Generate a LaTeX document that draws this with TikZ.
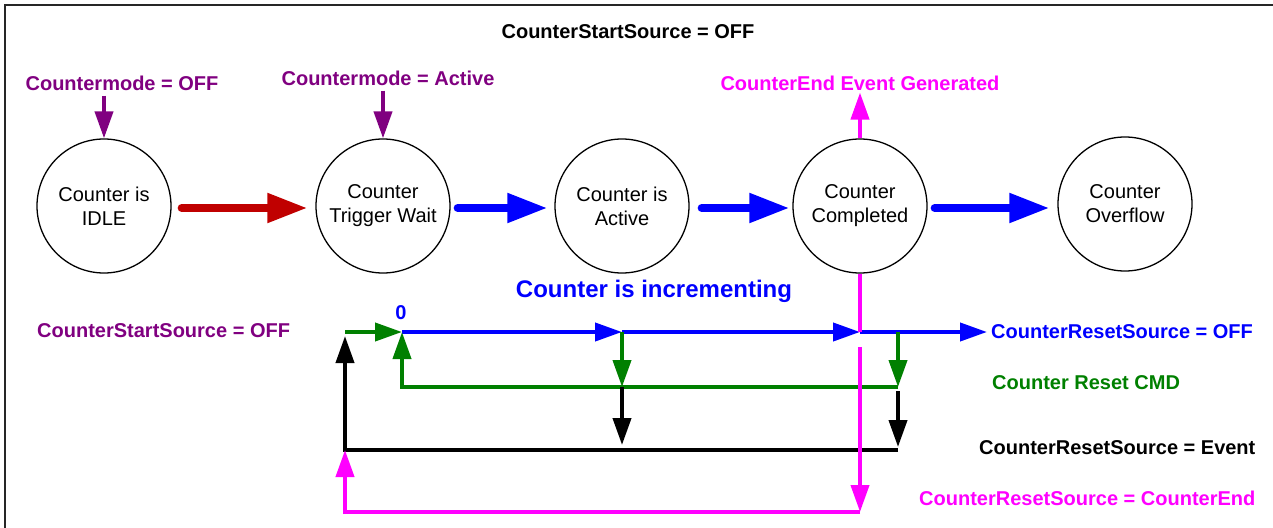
\documentclass[tikz,border=0pt]{standalone}
\usepackage{fontspec}
\setmainfont{Liberation Sans}
\usetikzlibrary{arrows.meta,positioning,calc}
\definecolor{redx}{HTML}{C00000}
\definecolor{purp}{HTML}{800080}
\definecolor{magx}{HTML}{FF00FF}
\definecolor{bluex}{HTML}{0000FF}
\definecolor{greenx}{HTML}{008000}
\tikzset{
  state/.style={circle,draw,line width=1.3pt,minimum size=134pt,inner sep=0pt,align=center,font=\fontsize{20}{24}\selectfont},
  big/.style={line width=8pt,line cap=round,-{Triangle[length=40pt,width=28pt]}},
  ar/.style={line width=4pt,-{Triangle[length=27pt,width=18pt]}},
  ln/.style={line width=4pt},
  lbl/.style={font=\fontsize{20}{24}\selectfont\bfseries,inner sep=2pt}
}

\begin{document}
\begin{tikzpicture}[x=1pt,y=-1pt]
\useasboundingbox (0,0) rectangle (1273,527);
\draw[line width=2pt,black!85] (1300,5) -- (5,5) -- (5,560);
% states
\node[state] (idle) at (104,206) {Counter is\\IDLE};
\node[state] (wait) at (383,206) {Counter\\Trigger Wait};
\node[state] (active) at (622,206) {Counter is\\Active};
\node[state] (done) at (860,206) {Counter\\Completed};
\node[state] (over) at (1125,204) {Counter\\Overflow};
% labels
\node[lbl] (top) at (628,32) {CounterStartSource = OFF};
\node[lbl,purp] (modeoff) at (122,83) {Countermode = OFF};
\node[lbl,purp] (modeact) at (388,78) {Countermode = Active};
\node[lbl,magx] (endev) at (860,83) {CounterEnd Event Generated};
\node[lbl,purp,anchor=west] (ssoff) at (35,331) {CounterStartSource = OFF};
\node[lbl,bluex,font=\fontsize{24}{28}\selectfont\bfseries] (incr) at (654,291) {Counter is incrementing};
\node[lbl,bluex] (zero) at (401,313) {0};
\node[lbl,bluex,anchor=west] (rsoff) at (989,332) {CounterResetSource = OFF};
\node[lbl,greenx,anchor=west] (rcmd) at (990,383) {Counter Reset CMD};
\node[lbl,anchor=west] (rsev) at (977,448) {CounterResetSource = Event};
\node[lbl,magx,anchor=west] (rsend) at (917,498) {CounterResetSource = CounterEnd};
% state transitions
\draw[big,redx,shorten <=10pt,shorten >=8pt] ([yshift=-2pt]idle.east) -- ([yshift=-2pt]wait.west);
\draw[big,bluex,shorten <=7pt,shorten >=7pt] ([yshift=-2pt]wait.east) -- ([yshift=-2pt]active.west);
\draw[big,bluex,shorten <=12pt,shorten >=3pt] ([yshift=-2pt]active.east) -- ([yshift=-2pt]done.west);
\draw[big,bluex,shorten <=7pt,shorten >=8pt] ([yshift=-2pt]done.east) -- ([yshift=-2pt]done.east -| over.west);
\draw[ar,purp,shorten <=3pt] (idle.north |- modeoff.south) -- (idle.north);
\draw[ar,purp,shorten <=3pt] (wait.north |- modeact.south) -- (wait.north);
\draw[ar,magx] (done.north) -- (done.north |- endev.south);
% counter time line
\coordinate (s0) at (345,332);
\coordinate (z) at (402,332);
\coordinate (b1) at (622,332);
\coordinate (b2) at (860,332);
\coordinate (b3) at (898,332);
\coordinate (g0) at (402,387);
\coordinate (g1) at (622,387);
\coordinate (g2) at (898,387);
\coordinate (k0) at (345,450);
\coordinate (k1) at (622,450);
\coordinate (k2) at (898,450);
\coordinate (m1) at (860,347);
\coordinate (m2) at (860,512);
\coordinate (m0) at (345,512);
\draw[ar,bluex] (z) -- (b1);
\draw[ar,bluex] (b1) -- (b2);
\draw[ar,bluex,shorten >=2pt] (b2) -- (rsoff.west);
\draw[ar,greenx] (s0) -- (z);
\draw[ar,greenx] (b1) -- (g1);
\draw[ar,greenx] (b3) -- (g2);
\draw[ar,greenx] (g2) -- (g0) -- (z);
\draw[ar,black,shorten >=5pt] (g1) -- (k1);
\draw[ar,black,shorten <=4pt,shorten >=3pt] (g2) -- (k2);
\draw[ar,black,shorten >=4pt] (k2) -- (k0) -- (s0);
\draw[ln,magx] (done.south) -- (b2);
\draw[ar,magx] (m1) -- (m2);
\draw[ar,magx] (m2) -- (m0) -- (k0);
\end{tikzpicture}
\end{document}
